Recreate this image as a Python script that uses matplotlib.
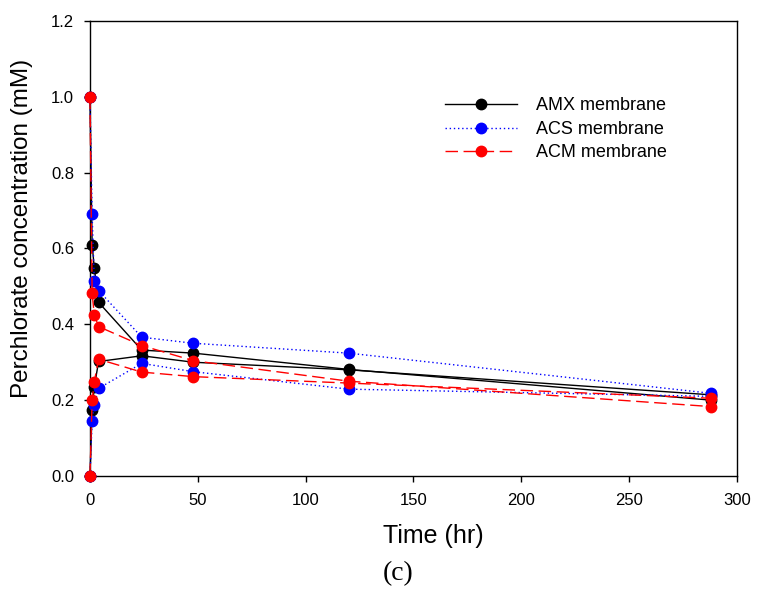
import matplotlib
matplotlib.use("Agg")
import matplotlib.pyplot as plt

plt.rcParams['font.family'] = ['Liberation Sans', 'DejaVu Sans']

# Time points (hr)
time = [0, 1, 2, 4, 24, 48, 120, 288]

# Feed side (decreasing) and receiving side (increasing) for each membrane
amx_feed = [1.0, 0.61, 0.549, 0.458, 0.332, 0.324, 0.281, 0.200]
amx_recv = [0.0, 0.174, 0.235, 0.302, 0.317, 0.300, 0.280, 0.214]

acs_feed = [1.0, 0.690, 0.513, 0.489, 0.366, 0.350, 0.324, 0.218]
acs_recv = [0.0, 0.146, 0.187, 0.231, 0.297, 0.275, 0.229, 0.210]

acm_feed = [1.0, 0.482, 0.425, 0.394, 0.344, 0.304, 0.250, 0.183]
acm_recv = [0.0, 0.200, 0.249, 0.308, 0.274, 0.262, 0.245, 0.205]

labels = ["AMX membrane", "ACS membrane", "ACM membrane"]
x_ticks = [0, 50, 100, 150, 200, 250, 300]
y_ticks = [0.0, 0.2, 0.4, 0.6, 0.8, 1.0, 1.2]

fig = plt.figure(figsize=(7.58, 5.94), dpi=100)
ax = fig.add_axes([0.1187, 0.1987, 0.8536, 0.7659])

styles = [
    dict(color='black', linestyle='-', linewidth=1.0),
    dict(color='blue', linestyle=(0, (1, 2)), linewidth=1.0),
    dict(color='red', linestyle=(0, (9, 4)), linewidth=1.0),
]
series = [(amx_feed, amx_recv), (acs_feed, acs_recv), (acm_feed, acm_recv)]

for (feed, recv), st, lab in zip(series, styles, labels):
    mfc = st['color']
    ax.plot(time, feed, marker='o', markersize=7.5, markerfacecolor=mfc,
            markeredgecolor=mfc, clip_on=False, label=lab, zorder=3, **st)
    ax.plot(time, recv, marker='o', markersize=7.5, markerfacecolor=mfc,
            markeredgecolor=mfc, clip_on=False, zorder=3, **st)

ax.set_xlim(0, 300)
ax.set_ylim(0, 1.2)
ax.set_xticks(x_ticks)
ax.set_yticks(y_ticks)
ax.set_yticklabels([f"{v:.1f}" for v in y_ticks])
ax.tick_params(axis='both', direction='out', labelsize=12, length=4.5, width=1,
               top=False, right=False)
ax.tick_params(axis='x', pad=8)
ax.tick_params(axis='y', pad=7)
for s in ax.spines.values():
    s.set_linewidth(1.0)

ax.set_xlabel("Time (hr)", fontsize=18, va='center', ha='center')
ax.xaxis.set_label_coords(0.530, -0.132)
ax.set_ylabel("Perchlorate concentration (mM)", fontsize=17.5, va='center', ha='center')
ax.yaxis.set_label_coords(-0.105, 0.543)

ax.legend(loc='upper left', bbox_to_anchor=(0.524, 0.868), frameon=False,
          fontsize=13, handlelength=4.0, handletextpad=1.0, labelspacing=0.36,
          numpoints=1)

fig.text(0.525, 0.034, "(c)", ha='center', va='center', fontsize=20,
         family=['Liberation Serif', 'DejaVu Serif'])

fig.savefig("out.png", dpi=100)
